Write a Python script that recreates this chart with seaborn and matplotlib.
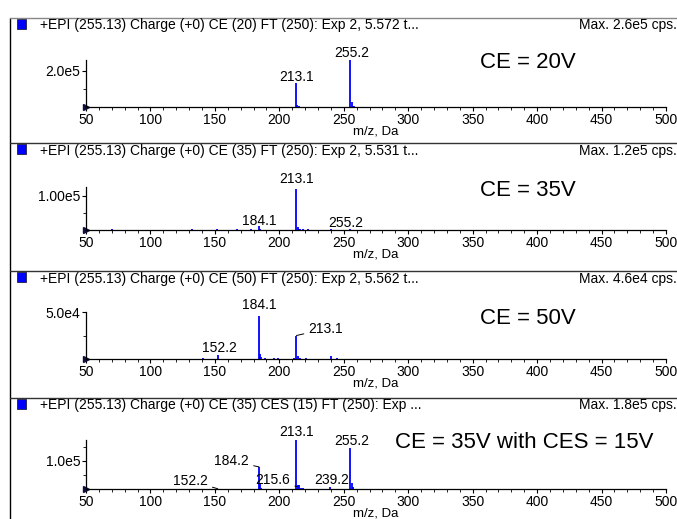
import matplotlib
matplotlib.use("Agg")
import matplotlib.pyplot as plt
import seaborn as sns
from matplotlib.lines import Line2D
from matplotlib.patches import Rectangle
from matplotlib.ticker import MultipleLocator

# peak lists (m/z, intensity in cps)
mz_ce20 = [213.1, 214.0, 215.0, 255.2, 256.1, 257.0, 258.0]
int_ce20 = [1.33e5, 1.2e4, 3e3, 2.6e5, 2.5e4, 8e3, 3e3]

mz_ce35 = [62, 70, 82, 95, 108, 125, 132, 140, 152, 160, 167, 178, 184.1, 185.0,
           190, 196, 203, 213.1, 214.1, 215.1, 216.0, 218.0, 222.0, 240.0, 255.2]
int_ce35 = [1e3, 1.5e3, 1e3, 1e3, 1e3, 1.2e3, 1.5e3, 1.2e3, 1.5e3, 1e3, 1.5e3, 1.5e3, 1.1e4, 3e3,
            1e3, 1.2e3, 1e3, 1.2e5, 8e3, 4e3, 3e3, 2e3, 1.5e3, 3e3, 4e3]

mz_ce50 = [141, 152.2, 184.1, 185.1, 186.0, 189, 196, 199, 211, 213.1, 214.1, 216, 221, 240, 245]
int_ce50 = [1.5e3, 4e3, 4.6e4, 5e3, 2e3, 1e3, 1.5e3, 1e3, 1e3, 2.45e4, 3e3, 1.5e3, 1e3, 3e3, 1e3]

mz_ces = [152.2, 184.2, 185.2, 186.0, 213.1, 214.5, 215.6, 217.0, 218.0, 239.2, 255.2, 256.2, 257.0]
int_ces = [1e3, 7.9e4, 2e4, 5e3, 1.8e5, 1.5e4, 1.4e4, 5e3, 3e3, 7e3, 1.46e5, 2e4, 8e3]

headers = [
    "+EPI (255.13) Charge (+0) CE (20) FT (250): Exp 2, 5.572 t...",
    "+EPI (255.13) Charge (+0) CE (35) FT (250): Exp 2, 5.531 t...",
    "+EPI (255.13) Charge (+0) CE (50) FT (250): Exp 2, 5.562 t...",
    "+EPI (255.13) Charge (+0) CE (35) CES (15) FT (250): Exp ...",
]
max_labels = ["Max. 2.6e5 cps.", "Max. 1.2e5 cps.", "Max. 4.6e4 cps.", "Max. 1.8e5 cps."]
ce_labels = ["CE = 20V", "CE = 35V", "CE = 50V", "CE = 35V with CES = 15V"]
y_tops = [2.6e5, 1.26e5, 5.0e4, 1.75e5]
y_ticks = [2.0e5, 1.0e5, 5.0e4, 1.0e5]
y_ticklabels = ["2.0e5", "1.00e5", "5.0e4", "1.0e5"]

# peak labels: (text, text x, text y, peak x, peak y or None for no leader)
labels_ce20 = [("213.1", 213.7, 1.67e5, None, None), ("255.2", 256.4, 3.0e5, None, None)]
labels_ce35 = [("213.1", 213.7, 1.5e5, None, None), ("184.1", 184.2, 2.6e4, None, None),
               ("255.2", 251.7, 2.1e4, None, None)]
labels_ce50 = [("184.1", 184.2, 5.7e4, None, None), ("152.2", 153.2, 1.2e4, None, None),
               ("213.1", 236.0, 3.2e4, 213.3, 2.5e4)]
labels_ces = [("213.1", 213.7, 2.04e5, None, None), ("255.2", 256.4, 1.71e5, None, None),
              ("184.2", 163.0, 1.0e5, 184.2, 7.9e4), ("152.2", 131.0, 2.9e4, 152.2, 1e3),
              ("215.6", 195.0, 3.2e4, 214.0, 8e3), ("239.2", 241.0, 3.2e4, None, None)]

spectra = [(mz_ce20, int_ce20, labels_ce20), (mz_ce35, int_ce35, labels_ce35),
           (mz_ce50, int_ce50, labels_ce50), (mz_ces, int_ces, labels_ces)]

sns.set_theme(style="ticks")
plt.rcParams["font.family"] = ["Liberation Sans", "DejaVu Sans"]
plt.rcParams["text.color"] = "black"
plt.rcParams["axes.labelcolor"] = "black"
plt.rcParams["xtick.color"] = "black"
plt.rcParams["ytick.color"] = "black"

W, H = 677, 519
fig = plt.figure(figsize=(W / 100, H / 100), dpi=100)
fig.patch.set_facecolor("white")

panel_tops = [18, 143, 271, 398]
axis_tops = [60, 187, 312, 440]
axis_bases = [107, 230, 359, 489]
ce_pos = [(528, 62), (528, 190), (528, 319), (524, 443)]
x0, x1 = 86, 666


def fx(px):
    return px / W


def fy(py):
    return 1 - py / H


# frame lines
fig.add_artist(Line2D([fx(10), fx(10)], [fy(18), 0], color="black", lw=1))
for i, top in enumerate(panel_tops):
    fig.add_artist(Line2D([fx(10), 1], [fy(top), fy(top)],
                          color="#888888" if i == 0 else "#333333", lw=1))
    fig.add_artist(Rectangle((fx(17), fy(top + 11)), fx(9), 10 / H, facecolor="#0000ff",
                             edgecolor="#202040", lw=0.6))
    fig.text(fx(40), fy(top + 7.5), headers[i], fontsize=10, va="center", ha="left")
    fig.text(fx(677), fy(top + 7.5), max_labels[i], fontsize=10, va="center", ha="right")
    fig.text(fx(ce_pos[i][0]), fy(ce_pos[i][1]), ce_labels[i], fontsize=16,
             va="center", ha="center")

for i, (mz, inten, labs) in enumerate(spectra):
    base, top = axis_bases[i], axis_tops[i]
    ax = fig.add_axes([fx(x0), fy(base), fx(x1 - x0), (base - top) / H])
    ax.set_facecolor("none")
    ax.vlines(mz, 0, inten, color="#0000ff", lw=1.3)
    ax.set_xlim(50, 500)
    ax.set_ylim(0, y_tops[i])
    ax.set_xticks(range(50, 501, 50))
    ax.xaxis.set_minor_locator(MultipleLocator(10))
    ax.set_yticks([y_ticks[i]])
    ax.set_yticklabels([y_ticklabels[i]])
    ax.yaxis.set_minor_locator(MultipleLocator(y_ticks[i] / 2))
    ax.tick_params(axis="both", which="major", length=3, width=0.8, labelsize=10, pad=1)
    ax.tick_params(axis="both", which="minor", length=2, width=0.6)
    sns.despine(ax=ax)
    for s in ["left", "bottom"]:
        ax.spines[s].set_linewidth(0.9)
        ax.spines[s].set_color("black")
    ax.set_xlabel("m/z, Da", fontsize=9.5, labelpad=-1)
    ax.plot([50], [0], marker=">", ms=4, color="#101040", clip_on=False)
    for text, tx, ty, px, py in labs:
        if px is None:
            ax.text(tx, ty, text, fontsize=10, ha="center", va="center")
        else:
            ax.annotate(text, xy=(px, py), xytext=(tx, ty), fontsize=10,
                        ha="center", va="center", annotation_clip=False,
                        arrowprops=dict(arrowstyle="-", color="black", lw=0.7,
                                        shrinkA=1, shrinkB=0))

fig.savefig("out.png", dpi=100, facecolor="white")
